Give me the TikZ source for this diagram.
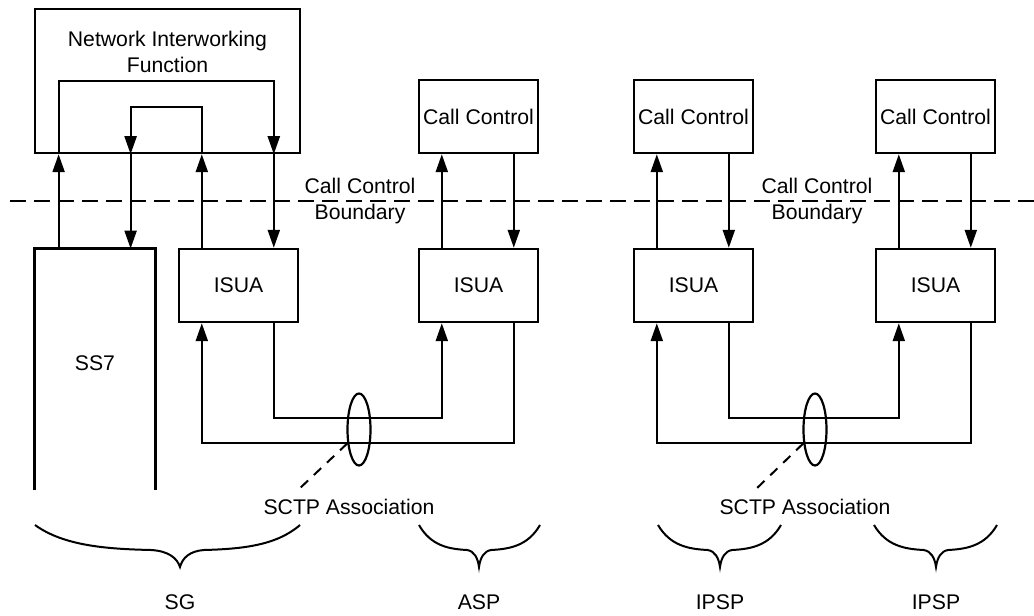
\documentclass[tikz,border=0pt]{standalone}
\usepackage{fontspec}
\setmainfont{Liberation Sans}
\usetikzlibrary{arrows.meta, calc, shapes.geometric}
\tikzset{
	sbox/.style={draw, line width=1.2pt, inner xsep=1pt, inner ysep=0pt,
		minimum width=59.5pt, minimum height=36.5pt,
		font=\fontsize{10.6}{13}\selectfont, align=center},
	slbl/.style={inner sep=0pt, font=\fontsize{10.6}{13}\selectfont, align=center},
	sarr/.style={-{Triangle[length=9pt,width=6pt]}, line width=1.1pt},
	sline/.style={line width=1.1pt},
	sassoc/.style={draw, ellipse, line width=1.1pt, minimum width=11.5pt,
		minimum height=36pt, inner sep=0pt},
	sbrace/.style={line width=1pt}
}

\begin{document}
\begin{tikzpicture}[x=0.5pt, y=-0.5pt]
	\useasboundingbox (0,0) rectangle (1034,616);
	% gateway side
	\node[sbox, minimum width=132.5pt, minimum height=72pt] (nif) at (167.5,81) {};
	\node[slbl] (niflbl) at (167.5,52) {Network Interworking\\Function};
	\node[inner sep=0pt, minimum width=60pt, minimum height=120.5pt] (ss7) at (95,369.5) {};
	\node[slbl] (ss7lbl) at (95,363) {SS7};
	\draw[line width=1.2pt] (ss7.south west) -- (ss7.north west) -- (ss7.north east) -- (ss7.south east);
	\node[sbox] (isua-sg) at (238.5,285.5) {ISUA};
	% ASP and IPSPs
	\node[sbox] (cc-asp) at (478.5,116.5) {Call Control};
	\node[sbox] (isua-asp) at (478.5,285.5) {ISUA};
	\node[sbox] (cc-ipa) at (693.5,116.5) {Call Control};
	\node[sbox] (isua-ipa) at (693.5,285.5) {ISUA};
	\node[sbox] (cc-ipb) at (935.5,116.5) {Call Control};
	\node[sbox] (isua-ipb) at (935.5,285.5) {ISUA};
	% call control boundary
	\coordinate (bnd-l) at (10,201);
	\coordinate (bnd-r) at (1034,201);
	\draw[sline, dash pattern=on 8pt off 4pt] (bnd-l) -- (bnd-r);
	\node[slbl] (bnd-a) at (360,201) {Call Control\\Boundary};
	\node[slbl] (bnd-b) at (817,201) {Call Control\\Boundary};
	% interworking loops
	\coordinate (ss7-up) at ($(ss7.north west)+(24,0)$);
	\coordinate (ss7-dn) at ($(ss7.north west)+(96,0)$);
	\coordinate (sg-up) at ($(isua-sg.north west)+(24,0)$);
	\coordinate (sg-dn) at ($(isua-sg.north west)+(96,0)$);
	\draw[sarr] (ss7-up) -- (ss7-up |- nif.south);
	\draw[sarr] (ss7-up |- nif.south) -- (ss7-up |- nif.center) -| (sg-dn |- nif.south);
	\draw[sarr] (sg-dn |- nif.south) -- (sg-dn);
	\draw[sarr] (sg-up) -- (sg-up |- nif.south);
	\draw[sarr] (sg-up |- nif.south) -- ++(0,-47) -| (ss7-dn |- nif.south);
	\draw[sarr] (ss7-dn |- nif.south) -- (ss7-dn);
	\foreach \s in {asp,ipa,ipb} {
		\draw[sarr] ($(isua-\s.north west)+(24,0)$) -- ($(cc-\s.south west)+(24,0)$);
		\draw[sarr] ($(cc-\s.south west)+(96,0)$) -- ($(isua-\s.north west)+(96,0)$);
	}
	% sctp associations
	\draw[sarr] ($(isua-asp.south west)+(96,0)$) -- ++(0,120) -| ($(isua-sg.south west)+(24,0)$);
	\draw[sarr] ($(isua-sg.south west)+(96,0)$) -- ++(0,95) -| ($(isua-asp.south west)+(24,0)$);
	\draw[sarr] ($(isua-ipb.south west)+(96,0)$) -- ++(0,120) -| ($(isua-ipa.south west)+(24,0)$);
	\draw[sarr] ($(isua-ipa.south west)+(96,0)$) -- ++(0,95) -| ($(isua-ipb.south west)+(24,0)$);
	\node[sassoc] (sctp-a) at (359,429.5) {};
	\node[sassoc] (sctp-b) at (815,429.5) {};
	\node[slbl] (sctplbl-a) at (349,507) {SCTP Association};
	\node[slbl] (sctplbl-b) at (805,507) {SCTP Association};
	\coordinate (sctpend-a) at (298,490);
	\coordinate (sctpend-b) at (755,490);
	\draw[line width=1pt, dash pattern=on 5pt off 4pt] (sctp-a.230) -- (sctpend-a);
	\draw[line width=1pt, dash pattern=on 5pt off 4pt] (sctp-b.230) -- (sctpend-b);
	% braces
	\foreach \xl/\xm/\xr/\nm/\txt in {35/180/300/sg/SG, 419/479/540/asp/ASP, 658/720/781/ipa/IPSP, 874/936/997/ipb/IPSP} {
		\pgfmathsetmacro{\la}{\xm-\xl}
		\pgfmathsetmacro{\lb}{\xr-\xm}
		\draw[sbrace] (\xl,525) .. controls ({\xl+0.2*\la},546) and ({\xm-0.5*\la},549) .. ({\xm-0.2*\la},550)
			.. controls ({\xm-0.08*\la},551) and ({\xm-0.02*\la},558) .. (\xm,567)
			.. controls ({\xm+0.02*\lb},558) and ({\xm+0.08*\lb},551) .. ({\xm+0.2*\lb},550)
			.. controls ({\xm+0.5*\lb},549) and ({\xr-0.2*\lb},546) .. (\xr,525);
		\node[slbl] (lbl-\nm) at (\xm,602) {\txt};
	}
\end{tikzpicture}
\end{document}
